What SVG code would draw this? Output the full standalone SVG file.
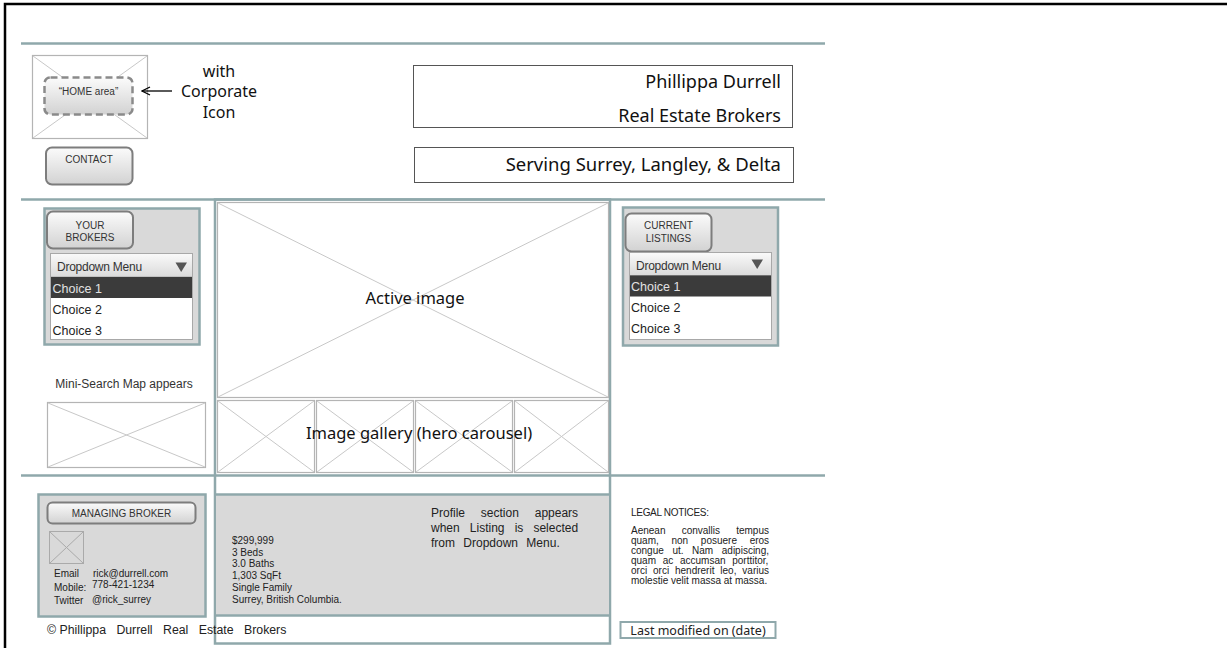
<svg xmlns="http://www.w3.org/2000/svg" width="1227" height="648" viewBox="0 0 1227 648">
<defs>
<linearGradient id="btn" x1="0" y1="0" x2="0" y2="1"><stop offset="0" stop-color="#fbfbfb"/><stop offset="1" stop-color="#d2d2d2"/></linearGradient>
<linearGradient id="dd" x1="0" y1="0" x2="0" y2="1"><stop offset="0" stop-color="#fafafa"/><stop offset="1" stop-color="#dadada"/></linearGradient>
<marker id="arr" markerWidth="10" markerHeight="10" refX="9" refY="5" orient="auto" markerUnits="userSpaceOnUse"><path d="M1,1 L9,5 L1,9" fill="none" stroke="#000" stroke-width="1.3"/></marker>
</defs>
<style>
.sep{stroke:#8fa8ab;stroke-width:2.5;fill:none}
.teal{stroke:#8fa8ab;stroke-width:2.5}
.panel{fill:#d9d9d9;stroke:#8fa8ab;stroke-width:2.5}
.ph{fill:#fff;stroke:#b4b4b4;stroke-width:1.2}
.x{stroke:#c8c8c8;stroke-width:1}
.btn{fill:url(#btn);stroke:#7d7d7d;stroke-width:2}
.s{font-family:"Liberation Sans",Arial,sans-serif;fill:#222}
.n{font-family:"Noto Sans","Open Sans",sans-serif;fill:#111}
.box{fill:#fff;stroke:#555;stroke-width:1}
.hl{fill:#e2e2e2}
.g3{fill:#333}
</style>
<rect width="1227" height="648" fill="#fff"/>
<g id="frame"><path d="M5,648 V4 H1227" fill="none" stroke="#000" stroke-width="2.5"/></g>
<g id="separators">
<line class="sep" x1="21" y1="43.5" x2="825" y2="43.5"/>
<line class="sep" x1="21" y1="199.5" x2="825" y2="199.5"/>
<line class="sep" x1="21" y1="475.5" x2="825" y2="475.5"/>
</g>
<g id="logo">
<rect class="ph" x="32.5" y="55.5" width="115" height="83"/>
<line class="x" x1="33" y1="56" x2="147" y2="138"/><line class="x" x1="147" y1="56" x2="33" y2="138"/>
<rect x="44.5" y="77.5" width="88" height="37" rx="6" fill="url(#btn)" stroke="#8a8a8a" stroke-width="2.5" stroke-dasharray="7,4"/>
<text class="s g3" x="88.5" y="94.5" font-size="10" text-anchor="middle">“HOME area”</text>
</g>
<g id="connectors"><line x1="172" y1="91" x2="142" y2="91" stroke="#000" stroke-width="1.3" marker-end="url(#arr)"/></g>
<g id="note-corporate">
<text class="n" font-size="16" text-anchor="middle"><tspan x="219" y="77">with</tspan><tspan x="219" y="97">Corporate</tspan><tspan x="219" y="118">Icon</tspan></text>
</g>
<g id="contact">
<rect class="btn" x="46" y="147.5" width="86.5" height="37" rx="6"/>
<text class="s g3" x="89" y="163" font-size="10" text-anchor="middle">CONTACT</text>
</g>
<g id="title">
<rect class="box" x="413.5" y="65.5" width="379" height="62"/>
<text class="n" font-size="18" text-anchor="end"><tspan x="781" y="88">Phillippa Durrell</tspan><tspan x="781" y="122">Real Estate Brokers</tspan></text>
</g>
<g id="serving">
<rect class="box" x="414.5" y="147.5" width="379" height="35"/>
<text class="n" x="781" y="171" font-size="18.5" text-anchor="end">Serving Surrey, Langley, &amp; Delta</text>
</g>
<g id="your-brokers">
<rect class="panel" x="44.5" y="208.5" width="155" height="136"/>
<rect class="btn" x="47" y="211.5" width="86" height="37" rx="6"/>
<text class="s g3" font-size="10" text-anchor="middle"><tspan x="90" y="229">YOUR</tspan><tspan x="90" y="241">BROKERS</tspan></text>
<rect x="50.5" y="253.5" width="142" height="86" fill="#fff" stroke="#a8a8a8"/>
<rect x="50.5" y="253.5" width="142" height="23.5" fill="url(#dd)" stroke="#a8a8a8"/>
<text class="s g3" x="57" y="271" font-size="12" letter-spacing="-0.25">Dropdown Menu</text>
<path d="M175.5,262.5 H187 L181.2,272 Z" fill="#555"/>
<rect x="51" y="277" width="141" height="21" fill="#3b3b3b"/>
<text class="s hl" x="52.5" y="292.5" font-size="12.5">Choice 1</text>
<text class="s" x="52.5" y="313.5" font-size="12.5">Choice 2</text>
<text class="s" x="52.5" y="334.5" font-size="12.5">Choice 3</text>
</g>
<g id="current-listings">
<rect class="panel" x="623" y="207.5" width="155" height="138"/>
<rect class="btn" x="625.5" y="213.5" width="86" height="38" rx="6"/>
<text class="s g3" font-size="10" text-anchor="middle"><tspan x="668.5" y="229">CURRENT</tspan><tspan x="668.5" y="242">LISTINGS</tspan></text>
<rect x="629.5" y="252.5" width="142" height="87" fill="#fff" stroke="#a8a8a8"/>
<rect x="629.5" y="252.5" width="142" height="23" fill="url(#dd)" stroke="#a8a8a8"/>
<text class="s g3" x="636" y="269.5" font-size="12" letter-spacing="-0.25">Dropdown Menu</text>
<path d="M751.5,259.5 H763 L757.2,269 Z" fill="#555"/>
<rect x="630" y="275.5" width="141" height="21" fill="#3b3b3b"/>
<text class="s hl" x="631" y="291" font-size="12.5">Choice 1</text>
<text class="s" x="631" y="312" font-size="12.5">Choice 2</text>
<text class="s" x="631" y="333" font-size="12.5">Choice 3</text>
</g>
<g id="center-column">
<rect x="215" y="199.5" width="395" height="444" fill="none" class="teal"/>
</g>
<g id="active-image">
<rect class="ph" x="217.5" y="202.5" width="391" height="195"/>
<line class="x" x1="218" y1="203" x2="608" y2="397"/><line class="x" x1="608" y1="203" x2="218" y2="397"/>
<text class="n" x="415" y="304" font-size="16.5" text-anchor="middle">Active image</text>
</g>
<g id="gallery">
<rect class="ph" x="217.5" y="400.5" width="97" height="72"/>
<line class="x" x1="218" y1="401" x2="314" y2="472"/><line class="x" x1="314" y1="401" x2="218" y2="472"/>
<rect class="ph" x="316.5" y="400.5" width="97" height="72"/>
<line class="x" x1="317" y1="401" x2="413" y2="472"/><line class="x" x1="413" y1="401" x2="317" y2="472"/>
<rect class="ph" x="415.5" y="400.5" width="97" height="72"/>
<line class="x" x1="416" y1="401" x2="512" y2="472"/><line class="x" x1="512" y1="401" x2="416" y2="472"/>
<rect class="ph" x="514.5" y="400.5" width="94" height="72"/>
<line class="x" x1="515" y1="401" x2="608" y2="472"/><line class="x" x1="608" y1="401" x2="515" y2="472"/>
<text class="n" x="419" y="439" font-size="16.5" text-anchor="middle">Image gallery (hero carousel)</text>
</g>
<g id="mini-map">
<text class="s g3" x="124" y="388" font-size="12" text-anchor="middle">Mini-Search Map appears</text>
<rect class="ph" x="47.5" y="402.5" width="158" height="65" stroke="#a0a0a0"/>
<line class="x" x1="48" y1="403" x2="205" y2="467"/><line class="x" x1="205" y1="403" x2="48" y2="467"/>
</g>
<g id="managing-broker">
<rect class="panel" x="38.5" y="494.5" width="167" height="122"/>
<rect class="btn" x="47.5" y="502.5" width="148" height="21" rx="5"/>
<text class="s g3" x="121.5" y="516.5" font-size="10" text-anchor="middle">MANAGING BROKER</text>
<rect x="49.5" y="531.5" width="34" height="32" fill="none" stroke="#aaa"/>
<line x1="50" y1="532" x2="83" y2="563" stroke="#aaa"/><line x1="83" y1="532" x2="50" y2="563" stroke="#aaa"/>
<text class="s" font-size="10"><tspan x="54" y="577">Email</tspan><tspan x="93" y="577">rick@durrell.com</tspan></text>
<text class="s" font-size="10"><tspan x="54" y="591">Mobile:</tspan><tspan x="92" y="588">778-421-1234</tspan></text>
<text class="s" font-size="10"><tspan x="54" y="604">Twitter</tspan><tspan x="92" y="603">@rick_surrey</tspan></text>
</g>
<g id="profile">
<rect x="216" y="494.5" width="393" height="121" fill="#d9d9d9"/>
<line class="teal" x1="215" y1="494.5" x2="610" y2="494.5"/>
<line class="teal" x1="215" y1="615.5" x2="610" y2="615.5"/>
<text class="s" font-size="10"><tspan x="232" y="544">$299,999</tspan><tspan x="232" y="556">3 Beds</tspan><tspan x="232" y="567">3.0 Baths</tspan><tspan x="232" y="579">1,303 SqFt</tspan><tspan x="232" y="591">Single Family</tspan><tspan x="232" y="603">Surrey, British Columbia.</tspan></text>
<text class="s" font-size="12" x="431" y="517" word-spacing="12.5">Profile section appears</text>
<text class="s" font-size="12" x="431" y="532" word-spacing="6.8">when Listing is selected</text>
<text class="s" font-size="12" x="431" y="547" word-spacing="5">from Dropdown Menu.</text>
</g>
<g id="copyright">
<text class="s" x="47" y="634" font-size="12.3">© <tspan word-spacing="7">Phillippa Durrell Real Estate Brokers</tspan></text>
</g>
<g id="legal">
<text class="s" x="631" y="516" font-size="10" letter-spacing="-0.3">LEGAL NOTICES:</text>
<text class="s" font-size="10" x="631" y="534" word-spacing="13.4">Aenean convallis tempus</text>
<text class="s" font-size="10" x="631" y="544" word-spacing="9.9">quam, non posuere eros</text>
<text class="s" font-size="10" x="631" y="554" word-spacing="5.8">congue ut. Nam adipiscing,</text>
<text class="s" font-size="10" x="631" y="564" word-spacing="3.9">quam ac accumsan porttitor,</text>
<text class="s" font-size="10" x="631" y="574" word-spacing="3.1">orci orci hendrerit leo, varius</text>
<text class="s" font-size="10" x="631" y="584">molestie velit massa at massa.</text>
</g>
<g id="last-modified">
<rect x="620.5" y="622" width="155" height="16" fill="#fff" stroke="#8fa8ab" stroke-width="2"/>
<text class="n" x="698" y="634.5" font-size="12.5" text-anchor="middle" style="fill:#222">Last modified on (date)</text>
</g>
</svg>
